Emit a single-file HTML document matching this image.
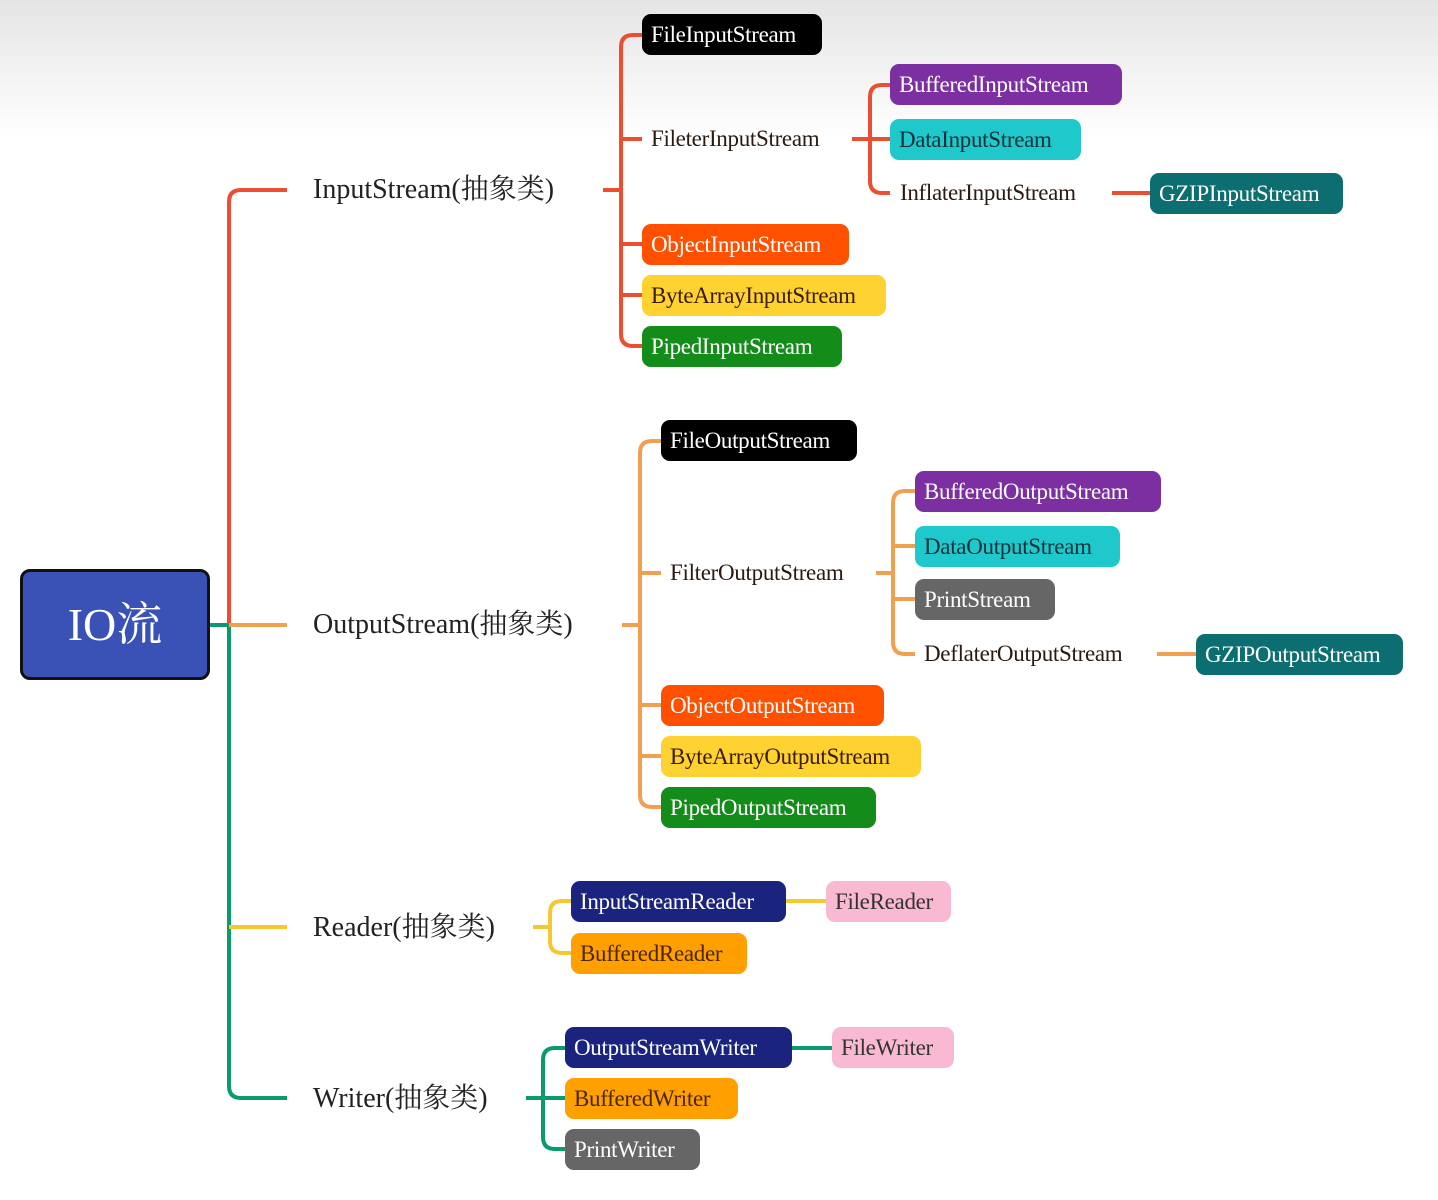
<!DOCTYPE html>
<html><head><meta charset="utf-8"><style>
body{margin:0;width:1438px;height:1200px;position:relative;overflow:hidden;background:linear-gradient(#e4e4e4 0px,#f6f6f6 90px,#fff 140px,#fff);font-family:"Liberation Serif","Noto Serif CJK SC",serif;}
.b{position:absolute;height:41px;line-height:41px;border-radius:9px;padding-left:9px;box-sizing:border-box;font-size:23px;color:#fff;white-space:nowrap;letter-spacing:-0.3px}
.t{position:absolute;font-size:23px;color:#2a1a10;white-space:nowrap;letter-spacing:-0.3px;line-height:30px}
.m{position:absolute;font-size:28px;color:#222;white-space:nowrap;line-height:36px}
.k{background:#000}.p{background:#7b2fa0}.c{background:#1fc9cb;color:#12303a}.g{background:#0c6e70}.o{background:#ff5000}.y{background:#fdd231;color:#3a1a00}.gr{background:#148c1a}.gy{background:#666}.n{background:#1a237e}.or{background:#ffa000;color:#4a2500}.pk{background:#f9b9d2;color:#333}
svg{position:absolute;left:0;top:0}
</style></head><body>
<svg width="1438" height="1200" fill="none" stroke-width="4" stroke-linecap="butt">
<!-- trunk -->
<path d="M287,190 L241,190 Q229,190 229,202 L229,625" stroke="#ec4e32"/>
<path d="M210,625 L229,625 L229,1086 Q229,1098 241,1098 L287,1098" stroke="#0a9a70"/>
<path d="M229,625 L287,625" stroke="#f0a050"/>
<path d="M229,927 L287,927" stroke="#f5c830"/>
<!-- input -->
<g stroke="#ec4e32">
<path d="M603,190 L621,190"/>
<path d="M642,35 L633,35 Q621,35 621,47 L621,334 Q621,346 633,346 L642,346"/>
<path d="M621,139 L642,139 M621,244 L642,244 M621,295 L642,295"/>
<path d="M852,139 L870,139"/>
<path d="M890,85 L882,85 Q870,85 870,97 L870,181 Q870,193 882,193 L890,193"/>
<path d="M870,139 L890,139 M1112,193 L1150,193"/>
</g>
<g stroke="#f0a050">
<path d="M622,625 L640,625"/>
<path d="M661,441 L652,441 Q640,441 640,453 L640,795 Q640,807 652,807 L661,807"/>
<path d="M640,573 L661,573 M640,705 L661,705 M640,756 L661,756"/>
<path d="M876,573 L893,573"/>
<path d="M915,491 L905,491 Q893,491 893,503 L893,642 Q893,654 905,654 L915,654"/>
<path d="M893,546 L915,546 M893,599 L915,599 M1157,654 L1196,654"/>
</g>
<g stroke="#f5c830">
<path d="M533,927 L550,927"/>
<path d="M571,901 L562,901 Q550,901 550,913 L550,941 Q550,953 562,953 L571,953"/>
<path d="M786,901 L826,901"/>
</g>
<g stroke="#0a9a70">
<path d="M526,1098 L543,1098"/>
<path d="M565,1048 L555,1048 Q543,1048 543,1060 L543,1137 Q543,1149 555,1149 L565,1149"/>
<path d="M543,1098 L565,1098 M792,1048 L832,1048"/>
</g>
</svg>

<div style="position:absolute;left:20px;top:569px;width:190px;height:111px;box-sizing:border-box;background:#3a51b5;border:3px solid #111;border-radius:10px;color:#fff;font-size:46px;line-height:105px;text-align:center">IO流</div>

<div class="m" style="left:313px;top:172px">InputStream(抽象类)</div>
<div class="m" style="left:313px;top:607px">OutputStream(抽象类)</div>
<div class="m" style="left:313px;top:910px">Reader(抽象类)</div>
<div class="m" style="left:313px;top:1081px">Writer(抽象类)</div>

<div class="b k" style="left:642px;top:14px;width:180px">FileInputStream</div>
<div class="t" style="left:651px;top:124px">FileterInputStream</div>
<div class="b p" style="left:890px;top:64px;width:232px">BufferedInputStream</div>
<div class="b c" style="left:890px;top:119px;width:191px">DataInputStream</div>
<div class="t" style="left:900px;top:178px">InflaterInputStream</div>
<div class="b g" style="left:1150px;top:173px;width:193px">GZIPInputStream</div>
<div class="b o" style="left:642px;top:224px;width:207px">ObjectInputStream</div>
<div class="b y" style="left:642px;top:275px;width:244px">ByteArrayInputStream</div>
<div class="b gr" style="left:642px;top:326px;width:200px">PipedInputStream</div>

<div class="b k" style="left:661px;top:420px;width:196px">FileOutputStream</div>
<div class="t" style="left:670px;top:558px">FilterOutputStream</div>
<div class="b p" style="left:915px;top:471px;width:246px">BufferedOutputStream</div>
<div class="b c" style="left:915px;top:526px;width:205px">DataOutputStream</div>
<div class="b gy" style="left:915px;top:579px;width:140px">PrintStream</div>
<div class="t" style="left:924px;top:639px">DeflaterOutputStream</div>
<div class="b g" style="left:1196px;top:634px;width:207px">GZIPOutputStream</div>
<div class="b o" style="left:661px;top:685px;width:223px">ObjectOutputStream</div>
<div class="b y" style="left:661px;top:736px;width:260px">ByteArrayOutputStream</div>
<div class="b gr" style="left:661px;top:787px;width:215px">PipedOutputStream</div>

<div class="b n" style="left:571px;top:881px;width:215px">InputStreamReader</div>
<div class="b pk" style="left:826px;top:881px;width:125px">FileReader</div>
<div class="b or" style="left:571px;top:933px;width:176px">BufferedReader</div>

<div class="b n" style="left:565px;top:1027px;width:227px">OutputStreamWriter</div>
<div class="b pk" style="left:832px;top:1027px;width:122px">FileWriter</div>
<div class="b or" style="left:565px;top:1078px;width:173px">BufferedWriter</div>
<div class="b gy" style="left:565px;top:1129px;width:135px">PrintWriter</div>
</body></html>
